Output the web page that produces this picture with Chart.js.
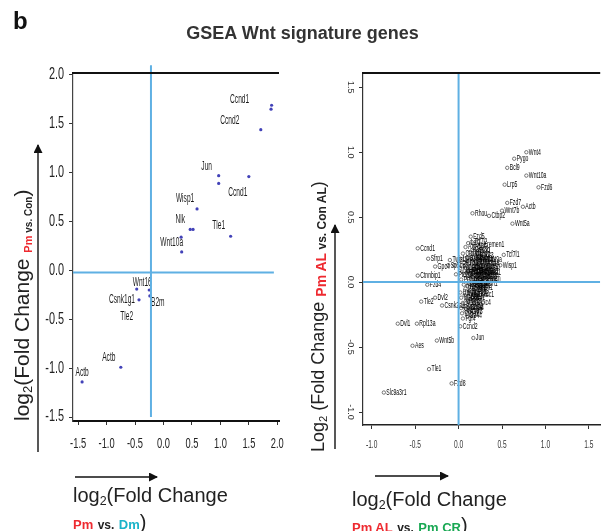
<!DOCTYPE html>
<html>
<head>
<meta charset="utf-8">
<script src="https://cdn.jsdelivr.net/npm/chart.js@4.4.1/dist/chart.umd.min.js"></script>
<style>
body { margin: 0; background: #fff; width: 605px; height: 531px; overflow: hidden; position: relative; font-family: "Liberation Sans", Arial, sans-serif; color: #222; }
canvas { position: absolute; top: 0; }
#left { left: 0; }
#right { left: 300px; }
.t { position: absolute; white-space: nowrap; }
.rt { position: absolute; white-space: nowrap; transform-origin: 0 0; transform: rotate(-90deg); }
sub { font-size: 0.62em; vertical-align: -0.25em; line-height: 0; }
.red { color: #ee2a30; font-weight: bold; }
.teal { color: #1ab3c9; font-weight: bold; }
.green { color: #19a853; font-weight: bold; }
.b { font-weight: bold; }
svg { position: absolute; left: 0; top: 0; }
</style>
</head>
<body>
<canvas id="left" width="300" height="531"></canvas>
<canvas id="right" width="305" height="531"></canvas>

<svg width="605" height="531">
  <defs>
    <marker id="ah" markerWidth="9" markerHeight="9" refX="8" refY="4.5" orient="auto" markerUnits="userSpaceOnUse">
      <path d="M0,0 L9,4.5 L0,9 z" fill="#111"/>
    </marker>
  </defs>
  <line x1="75" y1="477" x2="157" y2="477" stroke="#111" stroke-width="1.4" marker-end="url(#ah)"/>
  <line x1="375" y1="476" x2="448" y2="476" stroke="#111" stroke-width="1.4" marker-end="url(#ah)"/>
  <line x1="38" y1="452" x2="38" y2="145" stroke="#111" stroke-width="1.4" marker-end="url(#ah)"/>
  <line x1="335" y1="449" x2="335" y2="225" stroke="#111" stroke-width="1.4" marker-end="url(#ah)"/>
</svg>

<div class="t b" style="left:13px;top:9px;font-size:24px;line-height:24px;color:#111">b</div>
<div class="t b" style="left:0;top:23px;width:605px;text-align:center;font-size:18px;line-height:20px;color:#333">GSEA Wnt signature genes</div>

<div class="rt" style="left:9px;top:421px;font-size:21px;line-height:26px">log<sub>2</sub>(Fold Change <span class="red" style="font-size:11px;vertical-align:-3px">Pm</span><span class="b" style="font-size:10px;vertical-align:-3px"> vs. Con</span>)</div>
<div class="rt" style="left:306px;top:452px;font-size:18px;line-height:24px">Log<sub>2</sub> (Fold Change <span class="red" style="font-size:14px;vertical-align:-2px">Pm AL</span><span class="b" style="font-size:12px;vertical-align:-2px"> vs. Con AL</span>)</div>

<div class="t" style="left:73px;top:483px;font-size:20px;line-height:24px">log<sub>2</sub>(Fold Change</div>
<div class="t" style="left:73px;top:512px;line-height:20px"><span class="red" style="font-size:13px">Pm</span> <span class="b" style="font-size:12px">vs.</span> <span class="teal" style="font-size:13px">Dm</span><span style="font-size:20px">)</span></div>
<div class="t" style="left:352px;top:487px;font-size:20px;line-height:24px">log<sub>2</sub>(Fold Change</div>
<div class="t" style="left:352px;top:515px;line-height:20px"><span class="red" style="font-size:13px">Pm AL</span> <span class="b" style="font-size:12px">vs.</span> <span class="green" style="font-size:13px">Pm CR</span><span style="font-size:20px">)</span></div>

<script>
// left panel: Pm vs. Dm (x) against Pm vs. Con (y)
const leftGenes = ['Ccnd1', '', 'Ccnd2', 'Jun', '', 'Ccnd1', 'Wisp1', 'Nlk', '', 'Tle1', '', 'Wnt10a', 'Tle2', 'Wnt16', 'B2m', 'Csnk1g1', 'Actb', 'Actb'];
const leftX = [1.90, 1.89, 1.71, 0.97, 0.97, 1.50, 0.59, 0.47, 0.52, 1.18, 0.31, 0.32, -0.47, -0.25, -0.24, -0.43, -0.75, -1.43];
const leftY = [1.69, 1.65, 1.44, 0.97, 0.89, 0.96, 0.63, 0.42, 0.42, 0.35, 0.34, 0.19, -0.19, -0.20, -0.26, -0.30, -0.99, -1.14];
const leftXTicks = [-1.5, -1.0, -0.5, 0.0, 0.5, 1.0, 1.5, 2.0];
const leftYTicks = [-1.5, -1.0, -0.5, 0.0, 0.5, 1.0, 1.5, 2.0];
const leftRefX = -0.22;
const leftRefY = -0.02;

// label offsets from the dot, in pixels
const leftLabelDx = [-32, 0, -31, -12, 0, -11, -12, -10, 0, -12, 0, -10, -10, -7, 8, -17, -12, 0];
const leftLabelDy = [-6, 0, -9, -9, 0, 16, -10, -10, 0, -11, 0, -9, 28, -7, 7, 0, -10, -9];

// right panel: Pm AL vs. Pm CR (x) against Pm AL vs. Con AL (y)
const rightGenes = [
  'Bcl9', 'Pygo', 'Wnt4', 'Wnt10a', 'Lrp5', 'Fzd6', 'Fzd7', 'Actb', 'Rhou', 'Ctbp2', 'Wnt7b', 'Wnt5a',
  'Ccnd1', 'Fzd5', 'Kremen1', 'Tcf7l1', 'Wisp1', 'Sfrp1', 'Gpc4', 'Sp5', 'Ctnnbip1', 'Fzd4', 'Tle2', 'Dvl2',
  'Csnk2a1', 'Dvl1', 'Rpl13a', 'Ccnd2', 'Jun', 'Wnt5b', 'Aes', 'Tle1', 'Fzd8', 'Slc9a3r1',
  'Ctnnb1', 'Axin1', 'Axin2', 'Lef1', 'Tcf7', 'Tcf7l2', 'Gsk3b', 'Apc', 'Dkk1', 'Dkk3', 'Fzd1', 'Fzd2',
  'Fzd3', 'Fzd9', 'Lrp6', 'Myc', 'Nkd1', 'Nkd2', 'Wnt1', 'Wnt2', 'Wnt2b', 'Wnt3', 'Wnt3a', 'Wnt6',
  'Wnt7a', 'Wnt8a', 'Wnt8b', 'Wnt9a', 'Wnt11', 'Sfrp2', 'Sfrp4', 'Frat1', 'Frat2', 'Frzb', 'Ccnd3', 'Csnk1a1',
  'Csnk1d', 'Csnk2a2', 'Ctbp1', 'Ep300', 'Crebbp', 'Fbxw4', 'Fbxw11', 'Fosl1', 'Nlk', 'Porcn', 'Ppp2ca', 'Ppp2r1a',
  'Pitx2', 'Prickle1', 'Rhoa', 'Ruvbl1', 'Senp2', 'Sox17', 'Tle3', 'Btrc', 'Dab2', 'Daam1', 'Gli1', 'Hnf1a',
  'Mapk8', 'Nfatc1', 'Plcb1', 'Prkca', 'Rac1', 'Tcf3', 'Vangl2', 'Wif1', 'Cxxc4', 'Dixdc1', 'Ppp2r5d', 'Pygo2',
  'Smad4', 'Mmp7', 'Cd44', 'Bmp4', 'Dvl3', 'Fgf4', 'Id2', 'Lgr5', 'Ptch1', 'Tbx3', 'Twist1'
];
const rightX = [
  0.56, 0.64, 0.78, 0.78, 0.53, 0.92, 0.56, 0.74, 0.16, 0.35, 0.50, 0.62,
  -0.47, 0.14, 0.26, 0.52, 0.48, -0.35, -0.27, -0.12, -0.47, -0.36, -0.43, -0.27,
  -0.19, -0.70, -0.48, 0.02, 0.17, -0.25, -0.53, -0.34, -0.08, -0.86,
  0.05, 0.08, 0.10, 0.11, 0.13, 0.15, 0.16, 0.19, 0.21, 0.24, 0.06, 0.08,
  0.10, 0.12, 0.13, 0.15, 0.17, 0.18, 0.19, 0.20, 0.21, 0.22, 0.23, 0.25,
  0.26, 0.27, 0.28, 0.30, 0.04, 0.07, 0.09, 0.11, 0.13, 0.14, 0.16, 0.17,
  0.19, 0.20, 0.21, 0.23, 0.24, 0.25, 0.26, 0.27, 0.29, 0.30, 0.02, 0.03,
  0.06, 0.08, 0.10, 0.12, 0.14, 0.15, 0.18, 0.19, 0.21, 0.23, 0.26, 0.02,
  0.03, 0.05, 0.07, 0.09, 0.11, 0.12, 0.14, 0.16, 0.18, 0.20, 0.03, 0.04,
  0.06, 0.08, 0.10, 0.11, 0.13, 0.05, 0.17, 0.02, -0.03, -0.05, -0.10
];
const rightY = [
  0.88, 0.95, 1.00, 0.82, 0.75, 0.73, 0.61, 0.58, 0.53, 0.51, 0.55, 0.45,
  0.26, 0.35, 0.29, 0.21, 0.13, 0.18, 0.12, 0.13, 0.05, -0.02, -0.15, -0.12,
  -0.18, -0.32, -0.32, -0.34, -0.43, -0.45, -0.49, -0.67, -0.78, -0.85,
  0.22, 0.27, 0.19, 0.30, 0.23, 0.31, 0.25, 0.28, 0.24, 0.20, 0.15, 0.11,
  0.15, 0.09, 0.17, 0.13, 0.19, 0.10, 0.16, 0.21, 0.12, 0.18, 0.14, 0.17,
  0.10, 0.15, 0.12, 0.17, 0.08, 0.05, 0.07, 0.03, 0.06, 0.09, 0.04, 0.07,
  0.02, 0.08, 0.04, 0.09, 0.06, 0.02, 0.07, 0.04, 0.08, 0.03, 0.11, 0.02,
  -0.02, -0.05, -0.03, -0.07, -0.01, -0.04, -0.02, -0.06, -0.03, -0.01, -0.04, -0.08,
  -0.12, -0.16, -0.10, -0.14, -0.11, -0.15, -0.09, -0.12, -0.16, -0.10, -0.20, -0.24,
  -0.19, -0.22, -0.26, -0.20, -0.23, -0.28, 0.00, 0.18, 0.06, 0.13, 0.17
];
const rightXTicks = [-1.0, -0.5, 0.0, 0.5, 1.0, 1.5];
const rightYTicks = [-1.0, -0.5, 0.0, 0.5, 1.0, 1.5];
const rightRefX = 0;
const rightRefY = 0;

const refBlue = '#5fb0e3';
const fontFam = '"Liberation Sans", Arial, sans-serif';

// squeezed text, the figure uses a very narrow face
function drawNarrow(ctx, text, x, y, size, sx, align, rot, color) {
  ctx.save();
  ctx.translate(x, y);
  if (rot) ctx.rotate(rot);
  ctx.scale(sx, 1);
  ctx.font = size + 'px ' + fontFam;
  ctx.textAlign = align;
  ctx.textBaseline = 'middle';
  ctx.fillStyle = color || '#222';
  ctx.fillText(text, 0, 0);
  ctx.restore();
}

const frameTicks = {
  id: 'frameTicks',
  afterDraw(chart, args, o) {
    const ctx = chart.ctx;
    const a = chart.chartArea;
    const sx = chart.scales.x, sy = chart.scales.y;
    ctx.save();
    ctx.strokeStyle = '#111';
    ctx.lineWidth = 2.2;
    ctx.beginPath();
    ctx.moveTo(a.left - 1, a.top);
    ctx.lineTo(a.right, a.top);
    ctx.stroke();
    ctx.restore();
    sx.ticks.forEach(t => {
      drawNarrow(ctx, t.value.toFixed(1), sx.getPixelForValue(t.value), o.xLabelY, o.xSize, o.xSx, 'center', 0, o.color);
    });
    sy.ticks.forEach(t => {
      drawNarrow(ctx, t.value.toFixed(1), o.yLabelX, sy.getPixelForValue(t.value), o.ySize, o.ySx, o.yAlign, o.yRot, o.color);
    });
  }
};

const pointLabels = {
  id: 'pointLabels',
  afterDatasetDraw(chart, args, o) {
    if (args.index !== 0) return;
    const ctx = chart.ctx;
    chart.getDatasetMeta(0).data.forEach((el, i) => {
      const name = o.names[i];
      if (!name) return;
      const dx = o.dx ? o.dx[i] : o.defDx;
      const dy = o.dy ? o.dy[i] : o.defDy;
      drawNarrow(ctx, name, el.x + dx, el.y + dy, o.size, o.sx, o.align, 0, o.color);
    });
  }
};

function axisCfg(min, max, tickList, fitFn, borderWidth, borderColor) {
  return {
    type: 'linear',
    min: min,
    max: max,
    afterBuildTicks: s => { s.ticks = tickList.map(v => ({ value: v })); },
    afterFit: fitFn,
    ticks: { display: false },
    grid: { drawOnChartArea: false, drawTicks: true, tickLength: 4, color: '#333', lineWidth: 1 },
    border: { display: true, color: borderColor, width: borderWidth }
  };
}

new Chart(document.getElementById('left'), {
  type: 'scatter',
  data: {
    datasets: [
      {
        data: leftX.map((x, i) => ({ x: x, y: leftY[i] })),
        pointRadius: 1.6,
        pointBackgroundColor: '#4242b8',
        pointBorderWidth: 0,
        order: 2
      },
      {
        data: [{ x: leftRefX, y: -1.5 }, { x: leftRefX, y: 2.1 }],
        showLine: true, borderColor: refBlue, borderWidth: 2, pointRadius: 0, clip: false, order: 1
      },
      {
        data: [{ x: -1.59, y: leftRefY }, { x: 1.94, y: leftRefY }],
        showLine: true, borderColor: refBlue, borderWidth: 2, pointRadius: 0, order: 1
      }
    ]
  },
  options: {
    responsive: false,
    animation: false,
    layout: { padding: { top: 73, right: 21, left: 0, bottom: 0 } },
    plugins: {
      legend: { display: false },
      tooltip: { enabled: false },
      frameTicks: { xLabelY: 444, xSize: 15, xSx: 0.62, yLabelX: 64, ySize: 16, ySx: 0.68, yAlign: 'right', yRot: 0, color: '#222' },
      pointLabels: { names: leftGenes, dx: leftLabelDx, dy: leftLabelDy, size: 12, sx: 0.55, align: 'center', color: '#1a1a1a' }
    },
    scales: {
      x: axisCfg(-1.59, 2.03, leftXTicks, s => { s.height = 110; }, 2, '#111'),
      y: axisCfg(-1.54, 2.02, leftYTicks, s => { s.width = 73; }, 1.2, '#444')
    }
  },
  plugins: [frameTicks, pointLabels]
});

new Chart(document.getElementById('right'), {
  type: 'scatter',
  data: {
    datasets: [
      {
        data: rightX.map((x, i) => ({ x: x, y: rightY[i] })),
        pointRadius: 1.7,
        pointBackgroundColor: 'rgba(255,255,255,0)',
        pointBorderColor: '#555',
        pointBorderWidth: 0.8,
        order: 2
      },
      {
        data: [{ x: rightRefX, y: -1.10 }, { x: rightRefX, y: 1.61 }],
        showLine: true, borderColor: refBlue, borderWidth: 2, pointRadius: 0, order: 1
      },
      {
        data: [{ x: -1.10, y: rightRefY }, { x: 1.63, y: rightRefY }],
        showLine: true, borderColor: refBlue, borderWidth: 2, pointRadius: 0, order: 1
      }
    ]
  },
  options: {
    responsive: false,
    animation: false,
    layout: { padding: { top: 73, right: 0, left: 0, bottom: 0 } },
    plugins: {
      legend: { display: false },
      tooltip: { enabled: false },
      frameTicks: { xLabelY: 445, xSize: 11, xSx: 0.6, yLabelX: 50, ySize: 9, ySx: 1, yAlign: 'center', yRot: Math.PI / 2, color: '#333' },
      pointLabels: { names: rightGenes, defDx: 2.5, defDy: 0, size: 8.5, sx: 0.6, align: 'left', color: '#000' }
    },
    scales: {
      x: axisCfg(-1.10, 1.63, rightXTicks, s => { s.height = 106; }, 1.5, '#222'),
      y: axisCfg(-1.10, 1.61, rightYTicks, s => { s.width = 63; }, 1.2, '#333')
    }
  },
  plugins: [frameTicks, pointLabels]
});
</script>
</body>
</html>
